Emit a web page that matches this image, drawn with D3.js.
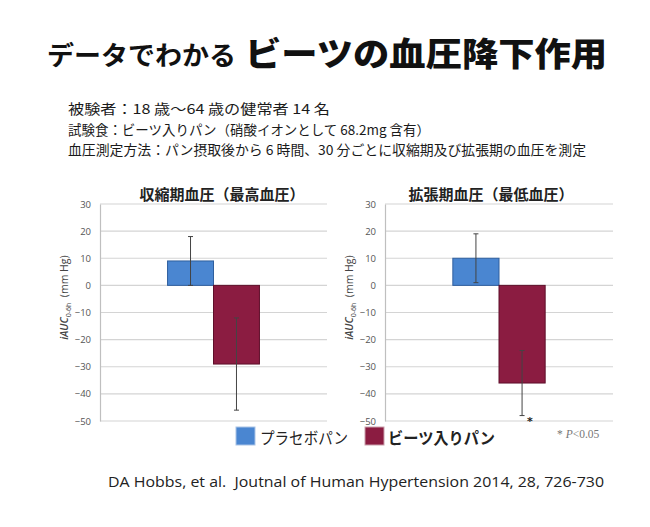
<!DOCTYPE html>
<html><head><meta charset="utf-8">
<script src="https://cdn.jsdelivr.net/npm/d3@7"></script>
<style>
body{margin:0;background:#fff;}
svg{display:block;}
</style></head>
<body>
<script>
// ---- data ----
const categories = ["プラセボパン", "ビーツ入りパン"];
const panelTitles = ["収縮期血圧（最高血圧）", "拡張期血圧（最低血圧）"];
const systolicMean = [9, -29];
const systolicErrLow = [0, -46];
const systolicErrHigh = [18, -12];
const diastolicMean = [10, -36];
const diastolicErrLow = [1, -48];
const diastolicErrHigh = [19, -24];
const yTicks = [30, 20, 10, 0, -10, -20, -30, -40, -50];
const significant = [false, false, false, true]; // diastolic beets marked *
const infoLines = [
  "被験者：18 歳～64 歳の健常者 14 名",
  "試験食：ビーツ入りパン（硝酸イオンとして 68.2mg 含有）",
  "血圧測定方法：パン摂取後から 6 時間、30 分ごとに収縮期及び拡張期の血圧を測定"
];
const citation = "DA Hobbs, et al.  Joutnal of Human Hypertension 2014, 28, 726-730";

const colors = ["#4a86d1", "#8b1c41"];
const strokes = ["#2f5f9e", "#5e0f2a"];
const JP = "'Noto Sans CJK JP', 'Noto Sans', sans-serif";

const W = 650, H = 527;
const svg = d3.select("body").append("svg").attr("width", W).attr("height", H);

// ---- title ----
svg.append("text").attr("x", 47).attr("y", 65)
  .attr("font-family", JP).attr("font-weight", 700).attr("font-size", 26)
  .attr("textLength", 189).attr("lengthAdjust", "spacingAndGlyphs")
  .attr("fill", "#111").text("データでわかる");
svg.append("text").attr("x", 245).attr("y", 66)
  .attr("font-family", JP).attr("font-weight", 900).attr("font-size", 33)
  .attr("textLength", 362).attr("lengthAdjust", "spacingAndGlyphs")
  .attr("fill", "#111").text("ビーツの血圧降下作用");

// ---- info lines ----
const infoW = [262, 362, 518];
infoLines.forEach((t, i) => {
  svg.append("text").attr("x", 68).attr("y", 114 + i * 20.5)
    .attr("font-family", JP).attr("font-size", 13.5)
    .attr("textLength", infoW[i]).attr("lengthAdjust", "spacingAndGlyphs")
    .attr("fill", "#1a1a1a").text(t);
});

// ---- panels ----
const panels = [
  {left: 100, right: 327, title: panelTitles[0], titleX: 222, mean: systolicMean, lo: systolicErrLow, hi: systolicErrHigh},
  {left: 385, right: 613, title: panelTitles[1], titleX: 491, mean: diastolicMean, lo: diastolicErrLow, hi: diastolicErrHigh}
];
const y = d3.scaleLinear().domain([-50, 30]).range([421, 204]);

panels.forEach((p, pi) => {
  const g = svg.append("g");
  const x = d3.scaleBand().domain(categories).range([p.left, p.right])
    .paddingInner(0).paddingOuter(1.47);

  // gridlines
  g.selectAll("line.grid").data(yTicks).join("line")
    .attr("x1", p.left).attr("x2", p.right)
    .attr("y1", d => y(d)).attr("y2", d => y(d))
    .attr("stroke", "#d4d4d4").attr("stroke-width", 1.2);

  // axis
  const ax = g.append("g").attr("transform", `translate(${p.left},0)`)
    .call(d3.axisLeft(y).tickValues(yTicks).tickSize(0).tickPadding(9));
  ax.select(".domain").attr("stroke", "#bfbfbf").attr("stroke-width", 1.2);
  ax.selectAll("text").attr("font-family", "'Open Sans', sans-serif")
    .attr("font-size", 9.5).attr("fill", "#555");

  // y label
  const lab = g.append("text")
    .attr("transform", `translate(${p.left - 32},${y(-4.5)}) rotate(-90)`)
    .attr("text-anchor", "middle").attr("font-family", "'Open Sans', sans-serif")
    .attr("font-size", 10.5).attr("fill", "#444").style("white-space", "pre");
  lab.append("tspan").attr("font-style", "italic").attr("font-weight", 600).text("iAUC");
  lab.append("tspan").attr("font-size", 7).attr("dy", 3).text("0-6h");
  lab.append("tspan").attr("dy", -3).text("  (mm Hg)");

  // title
  g.append("text").attr("x", p.titleX).attr("y", 200).attr("text-anchor", "middle")
    .attr("font-family", JP).attr("font-weight", 700).attr("font-size", 15)
    .attr("fill", "#222").text(p.title);

  // bars
  g.selectAll("rect.bar").data(categories).join("rect")
    .attr("x", d => x(d)).attr("width", x.bandwidth())
    .attr("y", (d, i) => y(Math.max(0, p.mean[i])))
    .attr("height", (d, i) => Math.abs(y(p.mean[i]) - y(0)))
    .attr("fill", (d, i) => colors[i])
    .attr("stroke", (d, i) => strokes[i]).attr("stroke-width", 1);

  // error bars
  categories.forEach((c, i) => {
    const cx = x(c) + x.bandwidth() / 2;
    g.append("line").attr("x1", cx).attr("x2", cx)
      .attr("y1", y(p.lo[i])).attr("y2", y(p.hi[i]))
      .attr("stroke", "#444").attr("stroke-width", 1);
    [p.lo[i], p.hi[i]].forEach(v => {
      g.append("line").attr("x1", cx - 2.5).attr("x2", cx + 2.5)
        .attr("y1", y(v)).attr("y2", y(v))
        .attr("stroke", "#444").attr("stroke-width", 1);
    });
    if (significant[pi * 2 + i]) {
      g.append("text").attr("x", cx + 5).attr("y", y(p.lo[i]) + 9)
        .attr("font-family", "'DejaVu Sans', sans-serif").attr("font-size", 11)
        .attr("font-weight", 700).attr("fill", "#222").text("*");
    }
  });
});

// ---- legend ----
const legItems = [
  {x: 236, tx: 260, w: 88, bold: false},
  {x: 365, tx: 388, w: 107, bold: true}
];
categories.forEach((c, i) => {
  const L = legItems[i];
  svg.append("rect").attr("x", L.x).attr("y", 427).attr("width", 19).attr("height", 18)
    .attr("fill", colors[i]).attr("stroke", i ? "#c9a0ac" : "#a9c3e6").attr("stroke-width", 1);
  svg.append("text").attr("x", L.tx).attr("y", 444)
    .attr("font-family", JP).attr("font-weight", L.bold ? 700 : 400).attr("font-size", 16)
    .attr("textLength", L.w).attr("lengthAdjust", "spacingAndGlyphs")
    .attr("fill", "#222").text(c);
});
svg.append("text").attr("x", 557).attr("y", 438)
  .attr("font-family", "'Liberation Serif', serif").attr("font-size", 11.5)
  .attr("fill", "#777")
  .html("* <tspan font-style='italic'>P</tspan>&lt;0.05");

// ---- citation ----
svg.append("text").attr("x", 108).attr("y", 487)
  .attr("font-family", "'Open Sans', sans-serif").attr("font-size", 15)
  .attr("textLength", 496).attr("lengthAdjust", "spacingAndGlyphs")
  .style("white-space", "pre")
  .attr("fill", "#222").text(citation);
</script>
</body></html>
